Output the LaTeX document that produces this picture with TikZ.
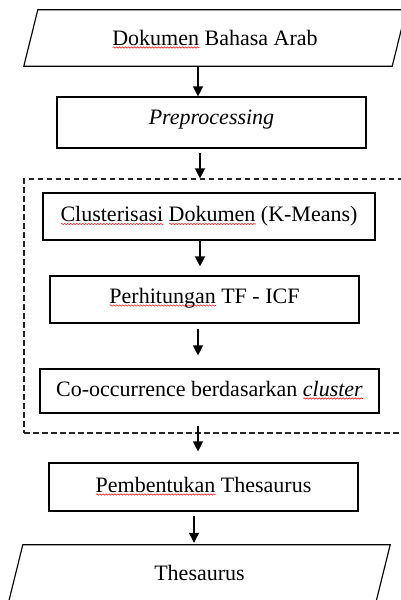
\documentclass[tikz,border=0pt]{standalone}
\usepackage{fontspec}
\setmainfont{Liberation Serif}
\usetikzlibrary{arrows.meta,decorations.pathmorphing}
\newsavebox\sqbox
\newlength\sqlen
\newcommand\squig[1]{\sbox\sqbox{#1}\setlength\sqlen{\wd\sqbox}\rlap{\tikz[baseline=0pt]{\draw[draw=red!85, line width=0.6pt, solid, decorate, decoration={snake, amplitude=0.7pt, segment length=3pt}] (0pt,-2.5pt) -- (\sqlen,-2.5pt);}}\usebox\sqbox}
\begin{document}
\begin{tikzpicture}[x=1pt,y=-1pt,
  txt/.style={font=\fontsize{22}{26}\selectfont, inner sep=0pt, text height=15pt, text depth=5pt, align=center},
  box/.style={txt, draw=black, line width=1.15pt, rectangle},
  arr/.style={line width=1.15pt, -{Triangle[length=10pt,width=10pt]}},
  para/.style={line width=1.15pt, line join=miter}
]
\useasboundingbox (0,0) rectangle (400,600);
\fill[white] (0,0) rectangle (400,600);

\node[txt, minimum width=382pt, minimum height=56pt, text height=16pt, text depth=2pt] (dok) at (215,38) {\squig{Dokumen} Bahasa Arab};
\draw[para] (dok.south west) -- ([xshift=-14pt]dok.south east) -- (dok.north east) -- ([xshift=14pt]dok.north west) -- cycle;

\node[box, minimum width=309pt, minimum height=51pt, text height=13pt, text depth=10pt] (pre) at (211.5,122.5) {\textit{Preprocessing}};

\node[draw=black!85, line width=1.1pt, dash pattern=on 5.5pt off 3.5pt, minimum width=382pt, minimum height=254pt, inner sep=0pt] (grp) at (215,306) {};

\node[box, minimum width=332pt, minimum height=47pt] (clu) at (209,216.5) {\squig{Clusterisasi} \squig{Dokumen} (K-Means)};
\node[box, minimum width=309pt, minimum height=47pt, text height=14pt, text depth=7pt] (tf) at (204.5,299.5) {\squig{Perhitungan} TF - ICF};
\node[box, minimum width=339pt, minimum height=44pt] (co) at (209.5,391) {Co-occurrence berdasarkan \squig{\textit{cluster}}};
\node[box, minimum width=309pt, minimum height=48pt] (pem) at (203.5,487) {\squig{Pembentukan} Thesaurus};

\node[txt, minimum width=381pt, minimum height=56pt, text height=16pt, text depth=2pt] (the) at (199.5,573) {Thesaurus};
\draw[para] (the.south west) -- ([xshift=-14pt]the.south east) -- (the.north east) -- ([xshift=14pt]the.north west) -- cycle;

\coordinate (a1) at (198,0);
\coordinate (a2) at (200,0);
\coordinate (a3) at (200,0);
\coordinate (a4) at (198,0);
\coordinate (a5) at (198,0);
\coordinate (a6) at (194,0);

\draw[arr, shorten <=1pt] (dok.south -| a1) -- (pre.north -| a1);
\draw[arr, shorten <=4pt] (pre.south -| a2) -- (grp.north -| a2);
\draw[arr, shorten >=9pt] (clu.south -| a3) -- (tf.north -| a3);
\draw[arr, shorten <=5pt, shorten >=13pt] (tf.south -| a4) -- (co.north -| a4);
\draw[arr, shorten <=12pt, shorten >=11pt] (co.south -| a5) -- (pem.north -| a5);
\draw[arr, shorten <=4pt, shorten >=2pt] (pem.south -| a6) -- (the.north -| a6);
\end{tikzpicture}
\end{document}
